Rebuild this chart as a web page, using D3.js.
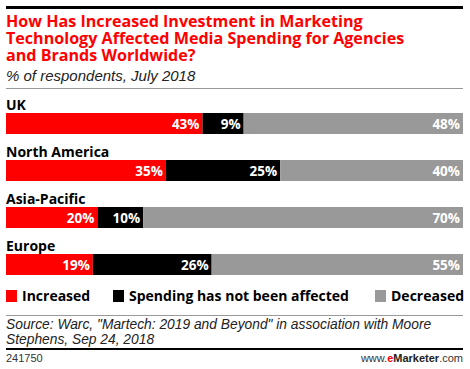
<!DOCTYPE html>
<html>
<head>
<meta charset="utf-8">
<script src="https://d3js.org/d3.v7.min.js"></script>
<style>
  body { margin: 0; background: #fff; }
  svg { display: block; font-family: "Liberation Sans", Arial, sans-serif; }
  .bold { font-family: "Open Sans", "Liberation Sans", sans-serif; font-weight: bold; }
</style>
</head>
<body>
<svg width="470" height="369"></svg>
<script>
  // data
  var regions = ["UK", "North America", "Asia-Pacific", "Europe"];
  var increased = [43, 35, 20, 19];
  var notAffected = [9, 25, 10, 26];
  var decreased = [48, 40, 70, 55];
  var seriesNames = ["Increased", "Spending has not been affected", "Decreased"];
  var colors = ["#ff0000", "#000000", "#999999"];

  var svg = d3.select("svg");
  var left = 6, right = 463;

  // top rule
  svg.append("rect").attr("x", left).attr("y", 6).attr("width", right - left).attr("height", 3).attr("fill", "#000");

  // title
  var titleLines = ["How Has Increased Investment in Marketing",
                    "Technology Affected Media Spending for Agencies",
                    "and Brands Worldwide?"];
  svg.selectAll(".title")
    .data(titleLines)
    .enter().append("text")
    .attr("class", "title bold")
    .attr("x", left)
    .attr("y", function(d, i) { return 27 + i * 17; })
    .attr("fill", "#ff0000")
    .style("font-size", "16.1px")
    .text(function(d) { return d; });

  svg.append("text")
    .attr("x", left).attr("y", 81)
    .style("font-style", "italic")
    .style("font-size", "15px")
    .attr("fill", "#222")
    .text("% of respondents, July 2018");

  svg.append("line").attr("x1", left).attr("x2", right).attr("y1", 88.5).attr("y2", 88.5)
    .attr("stroke", "#999").attr("stroke-width", 1);

  // scales
  var xScale = d3.scaleLinear().domain([0, 100]).range([left, right]);
  var yScale = d3.scalePoint().domain(regions).range([113, 254]);
  var barH = 21;

  var rows = regions.map(function(r, i) {
    var vals = [increased[i], notAffected[i], decreased[i]];
    var acc = 0;
    return {
      name: r,
      segs: vals.map(function(v, j) {
        var s = { start: acc, value: v, color: colors[j] };
        acc += v;
        return s;
      })
    };
  });

  var row = svg.selectAll(".row")
    .data(rows)
    .enter().append("g")
    .attr("class", "row");

  row.append("text")
    .attr("class", "bold")
    .attr("x", left)
    .attr("y", function(d) { return yScale(d.name) - 3; })
    .style("font-size", "14px")
    .attr("fill", "#000")
    .text(function(d) { return d.name; });

  row.selectAll("rect")
    .data(function(d) { return d.segs.map(function(s) { s.y = yScale(d.name); return s; }); })
    .enter().append("rect")
    .attr("x", function(d) { return xScale(d.start); })
    .attr("y", function(d) { return d.y; })
    .attr("width", function(d) { return xScale(d.start + d.value) - xScale(d.start); })
    .attr("height", barH)
    .attr("fill", function(d) { return d.color; });

  row.selectAll(".val")
    .data(function(d) { return d.segs; })
    .enter().append("text")
    .attr("class", "val bold")
    .attr("x", function(d) { return xScale(d.start + d.value) - 3; })
    .attr("y", function(d) { return d.y + barH / 2 + 5; })
    .attr("text-anchor", "end")
    .attr("fill", "#fff")
    .style("font-size", "13.5px")
    .text(function(d) { return d.value + "%"; });

  // legend
  var legendX = [6, 113, 375];
  var legend = svg.selectAll(".legend")
    .data(seriesNames)
    .enter().append("g")
    .attr("class", "legend")
    .attr("transform", function(d, i) { return "translate(" + legendX[i] + ",290)"; });
  legend.append("rect").attr("width", 11).attr("height", 12)
    .attr("fill", function(d, i) { return colors[i]; });
  legend.append("text").attr("class", "bold").attr("x", 16).attr("y", 11)
    .style("font-size", "14px")
    .text(function(d) { return d; });

  svg.append("line").attr("x1", left).attr("x2", right).attr("y1", 315.5).attr("y2", 315.5)
    .attr("stroke", "#999").attr("stroke-width", 1);

  var sourceLines = ["Source: Warc, \"Martech: 2019 and Beyond\" in association with Moore",
                     "Stephens, Sep 24, 2018"];
  svg.selectAll(".source")
    .data(sourceLines)
    .enter().append("text")
    .attr("class", "source")
    .attr("x", left)
    .attr("y", function(d, i) { return 329 + i * 15; })
    .style("font-style", "italic")
    .style("font-size", "13.8px")
    .attr("fill", "#222")
    .text(function(d) { return d; });

  svg.append("rect").attr("x", left).attr("y", 348).attr("width", right - left).attr("height", 2).attr("fill", "#000");

  svg.append("text").attr("x", left).attr("y", 362)
    .style("font-size", "11px").attr("fill", "#333").text("241750");

  var foot = svg.append("text").attr("x", right).attr("y", 362)
    .attr("text-anchor", "end").style("font-size", "11px").attr("fill", "#333");
  foot.append("tspan").text("www.");
  foot.append("tspan").attr("fill", "#ff0000").style("font-weight", "bold").text("e");
  foot.append("tspan").style("font-weight", "bold").attr("fill", "#222").text("Marketer");
  foot.append("tspan").text(".com");
</script>
</body>
</html>
